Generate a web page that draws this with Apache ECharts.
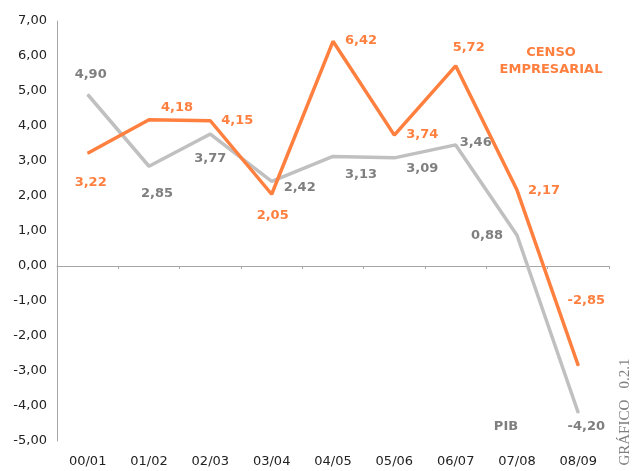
<!DOCTYPE html>
<html>
<head>
<meta charset="utf-8">
<script src="https://cdn.jsdelivr.net/npm/echarts@6/dist/echarts.min.js"></script>
<style>
  html, body { margin: 0; padding: 0; background: #fff; }
  #main { width: 637px; height: 471px; }
</style>
</head>
<body>
<div id="main"></div>
<script>
// datos
var periodos = ["00/01", "01/02", "02/03", "03/04", "04/05", "05/06", "06/07", "07/08", "08/09"];
var censo = [3.22, 4.18, 4.15, 2.05, 6.42, 3.74, 5.72, 2.17, -2.85];
var pib = [4.90, 2.85, 3.77, 2.42, 3.13, 3.09, 3.46, 0.88, -4.20];
var yTicks = [-5, -4, -3, -2, -1, 0, 1, 2, 3, 4, 5, 6, 7];

// desplazamiento de las etiquetas (px)
var offCenso = [[3, 29], [28, -12], [27, 0], [1, 21], [28, -1], [28, 0], [13, -18], [27, 1], [8, -65]];
var offPib = [[3, -20], [8, 27], [0, 25], [28, 6], [28, 18], [28, 11], [20, -2], [-30, 0], [8, 14]];

var naranja = "#ff7f3f";
var gris = "#c0c0c0";
var grisTxt = "#7f7f7f";
var fuente = "DejaVu Sans";

function coma(v) {
  return v.toFixed(2).replace(".", ",");
}

function puntos(vals, offs, color) {
  return vals.map(function (v, i) {
    return {
      value: v,
      label: {
        show: true,
        position: "inside",
        offset: offs[i],
        formatter: coma(v),
        color: color,
        fontFamily: fuente,
        fontWeight: "bold",
        fontSize: 13
      }
    };
  });
}

var myChart = echarts.init(document.getElementById("main"));
var option = {
  backgroundColor: "#fff",
  animation: false,
  grid: { left: 57, right: 28, top: 21, bottom: 30 },
  xAxis: [
    {
      type: "category",
      data: periodos,
      boundaryGap: true,
      axisLine: { onZero: true, lineStyle: { color: "#a6a6a6", width: 1 } },
      axisTick: { show: true, length: 3, lineStyle: { color: "#a6a6a6" } },
      axisLabel: { show: false }
    },
    {
      type: "category",
      data: periodos,
      position: "bottom",
      boundaryGap: true,
      axisLine: { show: false },
      axisTick: { show: false },
      axisLabel: { color: "#222", fontFamily: fuente, fontSize: 13, margin: 14 }
    }
  ],
  yAxis: {
    type: "value",
    min: yTicks[0],
    max: yTicks[yTicks.length - 1],
    interval: 1,
    axisLine: { show: true, lineStyle: { color: "#a6a6a6", width: 1 } },
    axisTick: { show: false },
    splitLine: { show: false },
    axisLabel: {
      color: "#222",
      fontFamily: fuente,
      fontSize: 13,
      margin: 10,
      formatter: function (v) { return coma(v); }
    }
  },
  series: [
    {
      name: "PIB",
      type: "line",
      xAxisIndex: 0,
      data: puntos(pib, offPib, grisTxt),
      symbol: "circle",
      symbolSize: 1,
      itemStyle: { color: gris },
      lineStyle: { color: gris, width: 3.5 },
      z: 2
    },
    {
      name: "CENSO EMPRESARIAL",
      type: "line",
      xAxisIndex: 0,
      data: puntos(censo, offCenso, naranja),
      symbol: "circle",
      symbolSize: 1,
      itemStyle: { color: naranja },
      lineStyle: { color: naranja, width: 3.5 },
      z: 3
    }
  ],
  graphic: [
    {
      type: "text",
      x: 551, y: 53,
      style: {
        text: "CENSO",
        fill: naranja,
        font: "bold 13px 'DejaVu Sans'",
        align: "center",
        verticalAlign: "middle"
      }
    },
    {
      type: "text",
      x: 551, y: 70,
      style: {
        text: "EMPRESARIAL",
        fill: naranja,
        font: "bold 13px 'DejaVu Sans'",
        align: "center",
        verticalAlign: "middle"
      }
    },
    {
      type: "text",
      x: 506, y: 427,
      style: {
        text: "PIB",
        fill: grisTxt,
        font: "bold 13px 'DejaVu Sans'",
        align: "center",
        verticalAlign: "middle"
      }
    },
    {
      type: "text",
      x: 625, y: 412,
      rotation: Math.PI / 2,
      style: {
        text: "GRÁFICO   0.2.1",
        fill: grisTxt,
        font: "15px 'Liberation Serif'",
        align: "center",
        verticalAlign: "middle"
      }
    }
  ]
};
myChart.setOption(option);
</script>
</body>
</html>
